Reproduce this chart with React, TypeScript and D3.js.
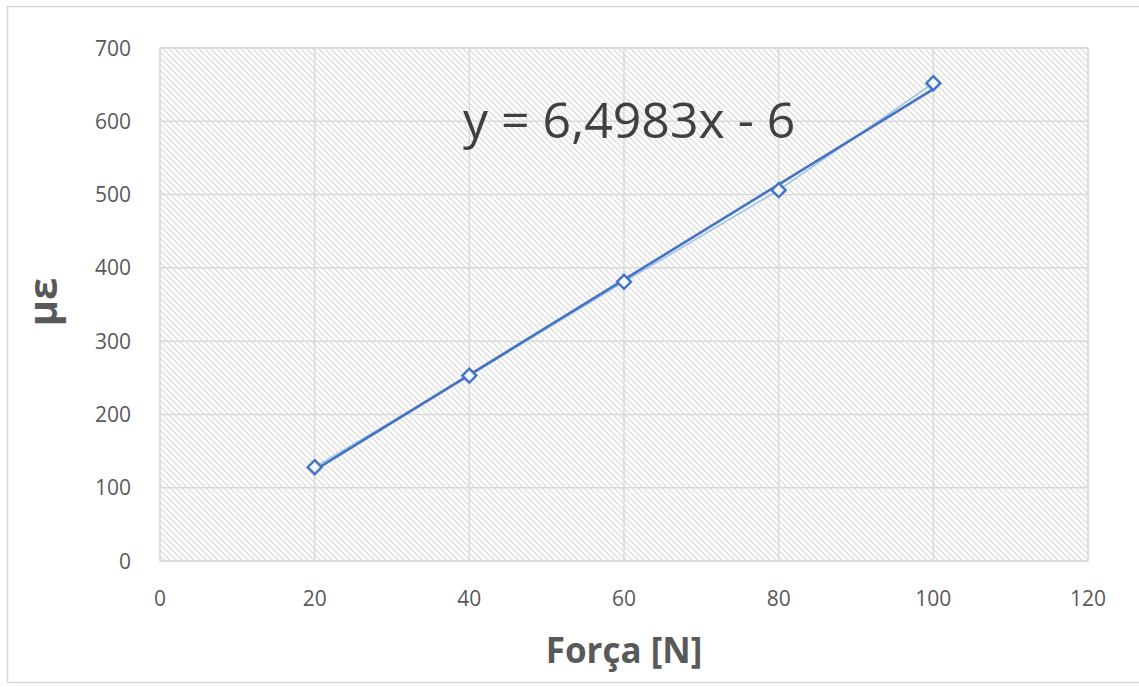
import React from "react";
import * as d3 from "d3";

const forces = [20, 40, 60, 80, 100];
const strains = [128, 253, 381, 506, 652];
const xTicks = [0, 20, 40, 60, 80, 100, 120];
const yTicks = [0, 100, 200, 300, 400, 500, 600, 700];
const trendSlope = 6.4983;
const trendIntercept = -6;
const equationLabel = "y = 6,4983x - 6";
const xTitle = "Força [N]";
const yTitle = "µε";

const W = 1139;
const H = 687;
const plot = { left: 160, right: 1088, top: 48, bottom: 561 };

export default function App() {
  const x = d3.scaleLinear().domain([0, 120]).range([plot.left, plot.right]);
  const y = d3.scaleLinear().domain([0, 700]).range([plot.bottom, plot.top]);
  const pts = forces.map((f, i) => [f, strains[i]] as [number, number]);
  const line = d3
    .line<[number, number]>()
    .x((d) => x(d[0]))
    .y((d) => y(d[1]));
  const trendPts: [number, number][] = [
    [forces[0], trendSlope * forces[0] + trendIntercept],
    [forces[forces.length - 1], trendSlope * forces[forces.length - 1] + trendIntercept],
  ];
  const diamond = d3.symbol().type(d3.symbolDiamond2).size(125)() as string;
  const font = "'Open Sans', 'Noto Sans', sans-serif";

  return (
    <svg
      width={W}
      height={H}
      style={{ position: "absolute", left: 0, top: 0, background: "#fff" }}
    >
      <defs>
        <pattern id="hatch" patternUnits="userSpaceOnUse" width={6} height={6}>
          <rect width={6} height={6} fill="#ffffff" />
          <path d="M-1,-1 L7,7 M-4,2 L2,8 M4,-2 L10,4" stroke="#e0e0e0" strokeWidth={1.5} />
        </pattern>
      </defs>
      <rect x={0} y={0} width={W} height={H} fill="#fff" />
      <rect x={7.5} y={6.5} width={W + 10} height={676} fill="none" stroke="#d9d9d9" strokeWidth={1.5} />
      <rect
        x={plot.left}
        y={plot.top}
        width={plot.right - plot.left}
        height={plot.bottom - plot.top}
        fill="url(#hatch)"
        stroke="#d9d9d9"
        strokeWidth={1}
      />
      {yTicks.map((t) => (
        <line key={"gy" + t} x1={plot.left} x2={plot.right} y1={y(t)} y2={y(t)} stroke="#d9d9d9" strokeWidth={1.5} />
      ))}
      {xTicks.map((t) => (
        <line key={"gx" + t} x1={x(t)} x2={x(t)} y1={plot.top} y2={plot.bottom} stroke="#d9d9d9" strokeWidth={1.5} />
      ))}
      {yTicks.map((t) => (
        <text
          key={"ty" + t}
          x={131}
          y={y(t)}
          dy="0.36em"
          textAnchor="end"
          fontFamily={font}
          fontSize={21}
          fill="#595959"
        >
          {t}
        </text>
      ))}
      {xTicks.map((t) => (
        <text
          key={"tx" + t}
          x={x(t)}
          y={606}
          textAnchor="middle"
          fontFamily={font}
          fontSize={21}
          fill="#595959"
        >
          {t}
        </text>
      ))}
      <path d={line(pts) as string} fill="none" stroke="#9dc3e6" strokeWidth={1.5} />
      <path d={line(trendPts) as string} fill="none" stroke="#4472c4" strokeWidth={2.6} />
      {pts.map((p, i) => (
        <path
          key={"m" + i}
          d={diamond}
          transform={`translate(${x(p[0])},${y(p[1])})`}
          fill="#f4f8fd"
          stroke="#4472c4"
          strokeWidth={2.4}
        />
      ))}
      <text x={463} y={138} fontFamily={font} fontSize={50} fill="#404040">
        {equationLabel}
      </text>
      <text x={624} y={663} textAnchor="middle" fontFamily={font} fontSize={35} fontWeight="bold" fill="#595959">
        {xTitle}
      </text>
      <text
        transform="translate(57,302) rotate(-90)"
        textAnchor="middle"
        fontFamily={font}
        fontSize={40}
        fontWeight="bold"
        fill="#595959"
      >
        {yTitle}
      </text>
    </svg>
  );
}
